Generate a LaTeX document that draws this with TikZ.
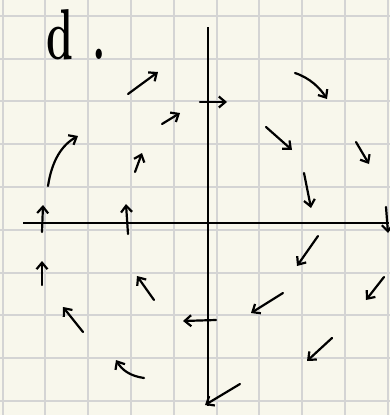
\documentclass[tikz,border=0pt]{standalone}
\usepackage{tikz}
\usetikzlibrary{arrows.meta}
\definecolor{paper}{HTML}{F8F7EC}
\definecolor{gridgray}{HTML}{D4D4D4}
\begin{document}
\begin{tikzpicture}[
  x=1pt, y=-1pt,
  gridline/.style={draw=gridgray, line width=2pt},
  axis/.style={draw=black, line width=2pt},
  vec/.style={draw=black, line width=2.2pt, line cap=round,
    -{Straight Barb[length=6.5pt, width=11pt, line width=2.2pt]}}
]
\fill[paper] (0,0) rectangle (390,415);
\useasboundingbox (0,0) rectangle (390,415);
% squared paper
\foreach \gx in {0,...,9}
  \draw[gridline] ({2.5+42.8*\gx},0) -- ++(0,415);
\foreach \gy in {0,...,9}
  \draw[gridline] (0,{15.7+42.8*\gy}) -- ++(390,0);
% axes
\coordinate (ytop) at (208,27);
\coordinate (ybot) at (208,406);
\coordinate (xleft) at (23,223);
\coordinate (xright) at (389,223);
\draw[axis] (ytop) -- (ybot);
\draw[axis] (xleft) -- (xright);
% label
\node[anchor=base west, inner sep=0pt, xscale=0.6,
  font=\fontsize{72}{72}\selectfont\bfseries] (part) at (46,59) {d\hspace{0.45em}.};
% straight vectors
\foreach \tx/\ty/\hx/\hy in {
  128/94/158/72, 162/124/180/113, 135/172/142/153,
  42/232/43/205, 128/234/126/204, 42/285/42/261,
  154/300/137/276, 83/332/63/307, 216/320/183/321,
  200/102/227/102, 266/127/292/150, 356/142/369/164,
  304/173/311/208, 386/207/388/233, 318/236/297/266,
  384/277/366/300, 283/293/251/313, 332/338/307/361,
  240/384/205/405}
  \draw[vec] (\tx,\ty) -- (\hx,\hy);
% curved vectors
\draw[vec] (48,186) .. controls (52,160) and (62,145) .. (78,136);
\draw[vec] (295,73) .. controls (310,78) and (320,88) .. (327,99);
\draw[vec] (144,378) .. controls (130,376) and (122,370) .. (116,360);
\end{tikzpicture}
\end{document}
